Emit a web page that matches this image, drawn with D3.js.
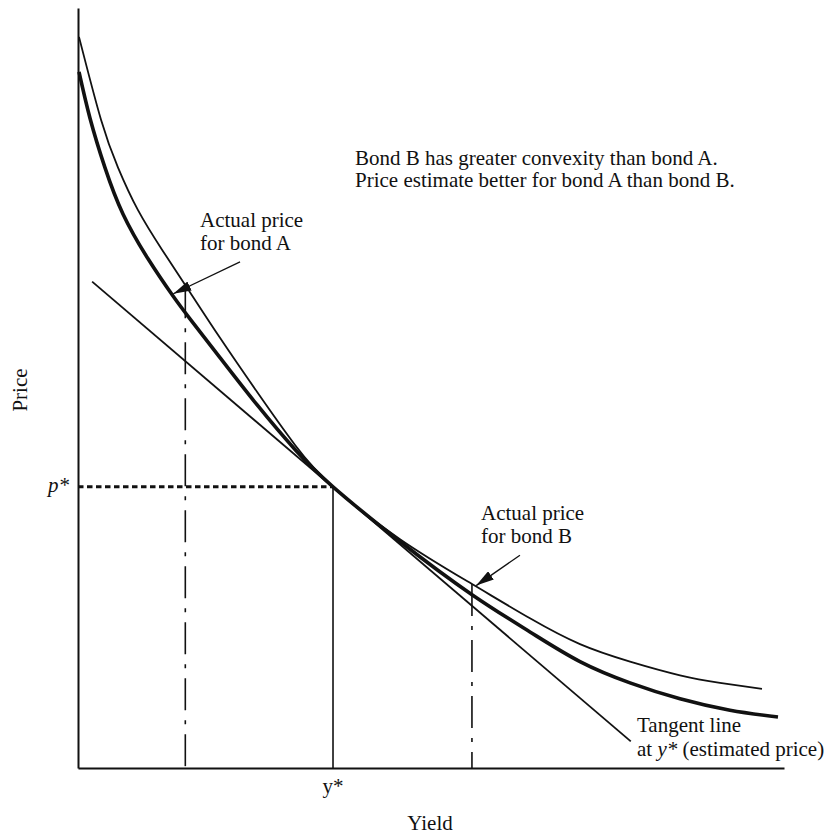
<!DOCTYPE html>
<html>
<head>
<meta charset="utf-8">
<script src="https://cdn.jsdelivr.net/npm/d3@7"></script>
<style>
  html, body { margin: 0; padding: 0; background: #fff; }
  svg { display: block; }
  text { font-family: "Liberation Serif", "Times New Roman", serif; fill: #111; }
</style>
</head>
<body>
<svg id="chart" width="831" height="835"></svg>
<script>
// Price–yield curves (yield, price) on a 0–100 index scale
const bondA = [
  [0.14, 91.6], [1.70, 85.5], [3.82, 79.0], [6.37, 72.9], [9.92, 67.0],
  [13.46, 62.1], [15.86, 59.1], [20.11, 54.0], [25.35, 47.8], [30.74, 41.9],
  [36.12, 37.0], [45.61, 29.8], [55.81, 22.8], [64.02, 17.9], [71.10, 14.0],
  [78.19, 11.2], [85.27, 9.1], [92.35, 7.6], [99.15, 6.7]
];
const bondB = [
  [0.14, 96.2], [3.26, 85.3], [5.67, 79.0], [8.50, 73.4], [12.04, 68.0],
  [15.86, 62.6], [20.11, 56.6], [25.35, 49.5], [30.74, 42.5], [36.12, 37.0],
  [45.61, 30.1], [55.81, 24.2], [64.02, 19.7], [71.10, 16.3], [78.19, 14.0],
  [85.27, 12.2], [90.93, 11.2], [96.88, 10.4]
];
// Tangent (duration) line through (y*, p*)
const tangentLine = [[2.0, 64.0], [78.3, 3.5]];
const yStar = 36.12;
const pStar = 37.0;
// Yield shifts marked with dash-dot drop lines
const shiftYields = [15.2, 55.8];
const shiftTops = [63.4, 24.2];
// Arrows: [from, tip]
const arrowA = [[22.95, 66.6], [13.5, 62.4]];
const arrowB = [[62.6, 28.0], [56.4, 24.0]];

// Text
const xTitle = "Yield";
const yTitle = "Price";
const yStarLabel = "y*";
const pStarLabel = "p*";
const noteLines = ["Bond B has greater convexity than bond A.",
                   "Price estimate better for bond A than bond B."];
const labelA = ["Actual price", "for bond A"];
const labelB = ["Actual price", "for bond B"];

const svg = d3.select("#chart");
const x = d3.scaleLinear().domain([0, 100]).range([78, 784]);
const y = d3.scaleLinear().domain([0, 100]).range([768, 8]);
const ink = "#111";

// Arrowhead marker
svg.append("defs").append("marker")
  .attr("id", "head")
  .attr("markerUnits", "userSpaceOnUse")
  .attr("viewBox", "0 0 18 10")
  .attr("refX", 18).attr("refY", 5)
  .attr("markerWidth", 18).attr("markerHeight", 10)
  .attr("orient", "auto")
  .append("path").attr("d", "M0,0 L18,5 L0,10 Z").attr("fill", ink);

// Axes (no ticks)
svg.append("g")
  .attr("transform", `translate(0,${y(0)})`)
  .call(d3.axisBottom(x).tickValues([]).tickSizeOuter(0))
  .call(g => g.select(".domain").attr("stroke", ink).attr("stroke-width", 2));
svg.append("g")
  .attr("transform", `translate(${x(0)},0)`)
  .call(d3.axisLeft(y).tickValues([]).tickSizeOuter(0))
  .call(g => g.select(".domain").attr("stroke", ink).attr("stroke-width", 2));

// p* dotted guide and y* drop line
svg.append("line")
  .attr("x1", x(0)).attr("x2", x(yStar))
  .attr("y1", y(pStar)).attr("y2", y(pStar))
  .attr("stroke", ink).attr("stroke-width", 3).attr("stroke-dasharray", "5.5,3.5");
svg.append("line")
  .attr("x1", x(yStar)).attr("x2", x(yStar))
  .attr("y1", y(pStar)).attr("y2", y(0))
  .attr("stroke", ink).attr("stroke-width", 1.6);

// Dash-dot drop lines at the shifted yields
shiftYields.forEach((v, i) => {
  svg.append("line")
    .attr("x1", x(v)).attr("x2", x(v))
    .attr("y1", y(shiftTops[i])).attr("y2", y(0))
    .attr("stroke", ink).attr("stroke-width", 1.6)
    .attr("stroke-dasharray", "32,10,4,10");
});

const line = d3.line().x(d => x(d[0])).y(d => y(d[1])).curve(d3.curveNatural);

// Tangent line
svg.append("path").datum(tangentLine)
  .attr("d", d3.line().x(d => x(d[0])).y(d => y(d[1])))
  .attr("fill", "none").attr("stroke", ink).attr("stroke-width", 1.8);

// Bond B (thin, more convex) and bond A (thick)
svg.append("path").datum(bondB)
  .attr("d", line).attr("fill", "none").attr("stroke", ink).attr("stroke-width", 1.8);
svg.append("path").datum(bondA)
  .attr("d", line).attr("fill", "none").attr("stroke", ink).attr("stroke-width", 3.6);

// Arrows
[arrowA, arrowB].forEach(a => {
  svg.append("line")
    .attr("x1", x(a[0][0])).attr("y1", y(a[0][1]))
    .attr("x2", x(a[1][0])).attr("y2", y(a[1][1]))
    .attr("stroke", ink).attr("stroke-width", 1.3)
    .attr("marker-end", "url(#head)");
});

// Text labels
const fs = 21;
function block(lines, x0, y0, step) {
  const t = svg.append("text").attr("font-size", fs);
  lines.forEach((s, i) => t.append("tspan").attr("x", x0).attr("y", y0 + i * step).text(s));
  return t;
}
block(noteLines, 355, 165, 22);
block(labelA, 200, 227, 23);
block(labelB, 481, 520, 23);

const tl = svg.append("text").attr("font-size", fs);
tl.append("tspan").attr("x", 637).attr("y", 732).text("Tangent line");
tl.append("tspan").attr("x", 637).attr("y", 756).text("at ");
tl.append("tspan").attr("font-style", "italic").text("y*");
tl.append("tspan").text(" (estimated price)");

svg.append("text").attr("font-size", fs).attr("text-anchor", "middle")
  .attr("x", x(yStar)).attr("y", 793).text(yStarLabel);
svg.append("text").attr("font-size", fs).attr("text-anchor", "end")
  .attr("font-style", "italic")
  .attr("x", 69).attr("y", y(pStar) + 5).text(pStarLabel);
svg.append("text").attr("font-size", fs).attr("text-anchor", "middle")
  .attr("x", 430).attr("y", 830).text(xTitle);
svg.append("text").attr("font-size", fs).attr("text-anchor", "middle")
  .attr("transform", `translate(27,390) rotate(-90)`).text(yTitle);
</script>
</body>
</html>
